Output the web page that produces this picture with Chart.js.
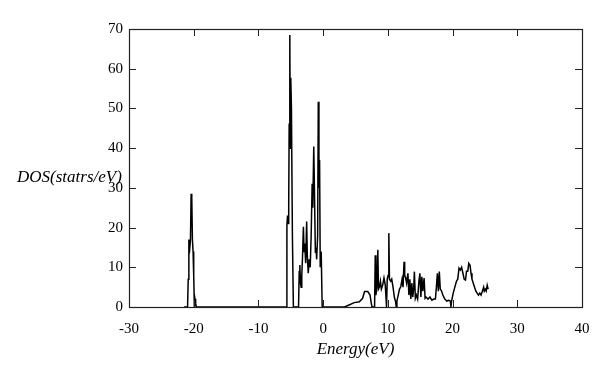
<!DOCTYPE html>
<html>
<head>
<meta charset="utf-8">
<script src="https://cdn.jsdelivr.net/npm/chart.js@4/dist/chart.umd.min.js"></script>
<style>
html,body{margin:0;padding:0;background:#fff;}
#wrap{width:609px;height:374px;position:relative;}
</style>
</head>
<body>
<div id="wrap"><canvas id="c" width="609" height="374"></canvas></div>
<script>
const energy = [
 -21.5,-20.95,-20.85,-20.75,-20.6,-20.5,-20.4,-20.3,-20.2,-20.1,-20.0,-19.9,-19.8,-19.7,-19.6,
 -6.0,-5.65,-5.6,-5.5,-5.4,-5.32,-5.25,-5.15,-5.08,-5.0,-4.9,-4.75,-4.6,
 -3.8,-3.7,-3.6,-3.5,-3.4,-3.3,-3.2,-3.05,-2.95,-2.85,-2.7,-2.55,-2.45,-2.3,-2.15,-2.0,
 -1.85,-1.7,-1.6,-1.45,-1.35,-1.2,-1.1,-1.0,-0.85,-0.75,-0.65,-0.55,-0.45,-0.3,-0.15,
 3.3,4.0,4.8,5.6,6.1,6.4,6.9,7.25,7.4,7.55,
 7.95,8.05,8.15,8.3,8.45,8.55,8.7,8.85,9.0,9.2,9.4,9.6,9.8,9.9,10.05,10.15,10.25,10.45,10.6,10.8,
 11.0,11.2,11.3,11.4,11.6,11.8,12.0,12.2,12.35,12.5,12.6,12.75,12.9,13.1,13.25,13.4,13.55,13.7,13.85,
 14.0,14.1,14.25,14.4,14.6,14.8,14.95,15.1,15.25,15.4,15.6,15.75,15.9,16.2,16.5,16.8,17.1,17.35,
 17.5,17.65,17.8,17.95,18.1,18.3,18.5,18.8,19.1,19.4,19.65,19.75,19.85,20.1,20.35,20.6,20.8,
 21.0,21.2,21.4,21.6,21.8,22.0,22.15,22.35,22.5,22.7,22.85,23.0,23.2,23.4,23.6,23.8,24.0,24.2,
 24.4,24.6,24.8,24.9,25.05,25.2,25.35,25.5
];
const dos = [
 0,0,7,17,15,17,28.5,27.5,17,14,8,0,2,1,0,
 0,0,20.6,23,21,25.7,46,68.5,40,57.7,50,18,0,
 0,8.9,10.6,6,5,8,12,20.2,14,16,11,21.5,13,8.5,12,10,
 18,31,25,40.4,30,13.6,15,12,18,51.7,30,37,10,14,0,
 0,0.5,1.1,1.3,2.2,3.9,3.9,3,1.3,0,
 0,13,3,5,14.4,4.5,5,6.5,4.5,5.5,7.3,5.5,0,7,8,18.6,7,6.5,7,5,
 2.5,1.3,0,1.5,3,4.5,5.1,7,5,11.4,8,7.3,6,8.5,3,7,2,6,2.5,
 5,8.9,2.2,3,2,6.5,8.5,2.5,7.6,4,7.3,2.2,2.5,2,2.5,1.7,2,2,
 5,8.5,4,8.9,4.5,4,3,2,1.5,1.7,1.5,0,1.5,3.5,5,6.5,7,
 9.8,9.3,10,8.5,7,6.8,9,9,11,10.5,8.5,7,6,5,4,3.5,3,3.5,
 3,4,5,4,4.5,4,5.5,4.5
];
const xTicks = [-30,-20,-10,0,10,20,30,40];
const yTicks = [0,10,20,30,40,50,60,70];
const xTitle = 'Energy(eV)';
const yTitle = 'DOS(statrs/eV)';

const points = energy.map((e,i)=>({x:e,y:dos[i]}));
const tickFont = {family:'"Liberation Serif", serif', size:15};

const framePlugin = {
  id:'frame',
  afterDraw(chart){
    const ctx = chart.ctx, a = chart.chartArea;
    const xs = chart.scales.x, ys = chart.scales.y;
    const L = 7;
    ctx.save();
    ctx.strokeStyle = '#222';
    ctx.lineWidth = 1;
    ctx.beginPath();
    xTicks.forEach(v=>{
      const p = Math.round(xs.getPixelForValue(v))+0.5;
      ctx.moveTo(p,a.bottom); ctx.lineTo(p,a.bottom-L);
      ctx.moveTo(p,a.top); ctx.lineTo(p,a.top+L);
    });
    yTicks.forEach(v=>{
      const p = Math.round(ys.getPixelForValue(v))+0.5;
      ctx.moveTo(a.left,p); ctx.lineTo(a.left+L,p);
      ctx.moveTo(a.right,p); ctx.lineTo(a.right-L,p);
    });
    ctx.stroke();
    ctx.lineWidth = 1.2;
    ctx.strokeRect(Math.round(a.left)+0.5, Math.round(a.top)+0.5, Math.round(a.right-a.left), Math.round(a.bottom-a.top));
    ctx.fillStyle = '#000';
    ctx.font = 'italic 17px "Liberation Serif", serif';
    ctx.textBaseline = 'middle';
    ctx.textAlign = 'left';
    ctx.fillText(yTitle, 17, 178);
    ctx.textAlign = 'center';
    ctx.fillText(xTitle, (a.left+a.right)/2, 350);
    ctx.restore();
  }
};

new Chart(document.getElementById('c'), {
  type:'scatter',
  data:{datasets:[{
    data:points, showLine:true, borderColor:'#000', backgroundColor:'#000',
    borderWidth:1.5, pointRadius:0, tension:0, clip:false
  }]},
  options:{
    responsive:false, animation:false,
    layout:{padding:{top:29,right:27,left:0,bottom:0}},
    plugins:{legend:{display:false},tooltip:{enabled:false}},
    scales:{
      x:{
        type:'linear', min:-30, max:40,
        afterFit(s){ s.height = 67; },
        afterBuildTicks(s){ s.ticks = xTicks.map(v=>({value:v})); },
        grid:{drawOnChartArea:false, drawTicks:false},
        border:{display:false},
        ticks:{font:tickFont, color:'#000', padding:13, maxRotation:0, autoSkip:false}
      },
      y:{
        type:'linear', min:0, max:70,
        afterFit(s){ s.width = 129; },
        afterBuildTicks(s){ s.ticks = yTicks.map(v=>({value:v})); },
        grid:{drawOnChartArea:false, drawTicks:false},
        border:{display:false},
        ticks:{font:tickFont, color:'#000', padding:6, autoSkip:false}
      }
    }
  },
  plugins:[framePlugin]
});
</script>
</body>
</html>
